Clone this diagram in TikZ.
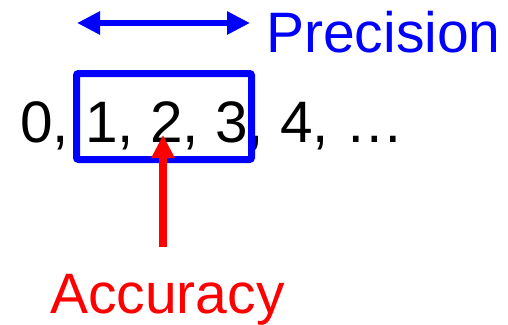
\documentclass[tikz,border=0pt]{standalone}
\usepackage{fontspec}
\setmainfont{Liberation Sans}
\usepackage{xcolor}
\usetikzlibrary{arrows.meta,positioning}

\begin{document}
\begin{tikzpicture}[
    x=1pt, y=-1pt,
    lbl/.style={inner sep=0pt, anchor=base west, font=\fontsize{57}{60}\selectfont},
    window/.style={draw=blue, line width=7pt, rounded corners=2pt, minimum width=175pt, minimum height=86pt, inner sep=0pt},
    span/.style={{Triangle[length=23pt,width=22pt]}-{Triangle[length=23pt,width=22pt]}, draw=blue, fill=blue, line width=6pt},
    pointer/.style={-{Triangle[length=23pt,width=22pt]}, draw=red, fill=red, line width=8pt}
  ]
    \useasboundingbox (0,0) rectangle (508,324);

    \node[lbl, text=blue] (prec) at (266,52) {Precision};
    \node[lbl, font=\fontsize{58.5}{60}\selectfont] (nums) at (20,142) {0, 1, 2, 3, 4, \ldots};
    \node[lbl, text=red] (acc) at (50,313) {Accuracy};

    \node[window] (win) at (164,116.5) {};
    \coordinate (pl) at (77,23);
    \coordinate (pr) at (250,23);
    \coordinate (tip) at (163,135);
    \coordinate (tail) at (163,247);

    \draw[span] (pl) -- (pr);
    \draw[pointer] (tail) -- (tip);
  \end{tikzpicture}
\end{document}
